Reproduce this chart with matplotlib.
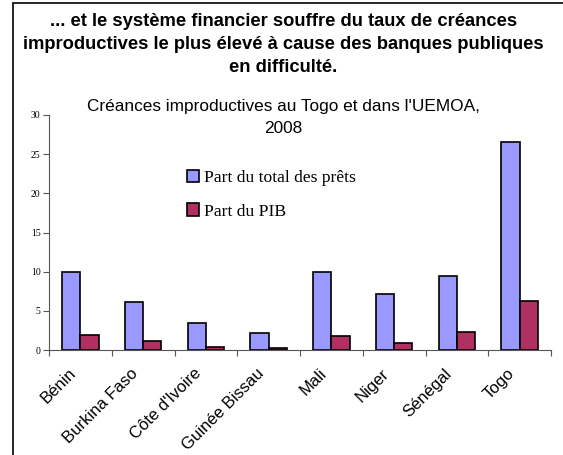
import matplotlib
matplotlib.use("Agg")
import matplotlib.pyplot as plt
from matplotlib.patches import Rectangle
import numpy as np

# data
pays = ["Bénin", "Burkina Faso", "Côte d'Ivoire", "Guinée Bissau",
        "Mali", "Niger", "Sénégal", "Togo"]
part_prets = [9.9, 6.1, 3.5, 2.2, 9.9, 7.2, 9.4, 26.5]
part_pib = [1.9, 1.1, 0.4, 0.2, 1.8, 0.9, 2.3, 6.2]

W, H = 563, 455
fig = plt.figure(figsize=(W / 100, H / 100), dpi=100)

# outer frame (left + top edge)
fig.add_artist(Rectangle((13 / W, -0.05), 1.1, 1.05 - 3 / H, transform=fig.transFigure,
                         fill=False, edgecolor="black", linewidth=1.2))

titre = ["... et le système financier souffre du taux de créances",
         "improductives le plus élevé à cause des banques publiques",
         "en difficulté."]
for k, ligne in enumerate(titre):
    fig.text(0.503, 1 - (21 + 23.5 * k) / H, ligne, ha="center", va="center",
             fontsize=13.2, fontweight="bold", family="Liberation Sans")

ax = fig.add_axes([49 / W, 1 - 350 / H, (551 - 49) / W, (350 - 115) / H])
x = np.arange(len(pays))
w = 0.29
ax.bar(x - w / 2, part_prets, w, color="#9999FF", edgecolor="black", linewidth=1.2,
       label="Part du total des prêts")
ax.bar(x + w / 2, part_pib, w, color="#B03062", edgecolor="black", linewidth=1.2,
       label="Part du PIB")

ax.set_xlim(-0.5, len(pays) - 0.5)
ax.set_ylim(0, 30)
ax.set_yticks(range(0, 31, 5))
for s in ["top", "right"]:
    ax.spines[s].set_visible(False)
ax.spines["left"].set_color("#555555")
ax.spines["bottom"].set_color("#555555")

ax.set_xticks(np.arange(len(pays) + 1) - 0.5)
ax.set_xticklabels([])
ax.tick_params(axis="x", direction="out", length=4, color="#555555")
ax.tick_params(axis="y", direction="out", length=4, color="#555555", labelsize=7, pad=2)
for lab in ax.get_yticklabels():
    lab.set_family("Liberation Serif")

for i, p in enumerate(pays):
    ax.text(i - 0.2, -2.0, p, rotation=45, ha="right", va="top", rotation_mode="anchor",
            fontsize=12, family="Liberation Sans")

ax.text(0.467, 0.99, "Créances improductives au Togo et dans l'UEMOA,\n2008",
        transform=ax.transAxes, ha="center", va="center", fontsize=12.4,
        family="Liberation Sans", linespacing=1.6)

ax.legend(loc="upper left", bbox_to_anchor=(0.243, 0.835), frameon=False,
          prop={"family": "Liberation Serif", "size": 12.6},
          handlelength=0.7, handleheight=0.7, handletextpad=0.3, labelspacing=1.0)

fig.savefig("out.png", dpi=100)
